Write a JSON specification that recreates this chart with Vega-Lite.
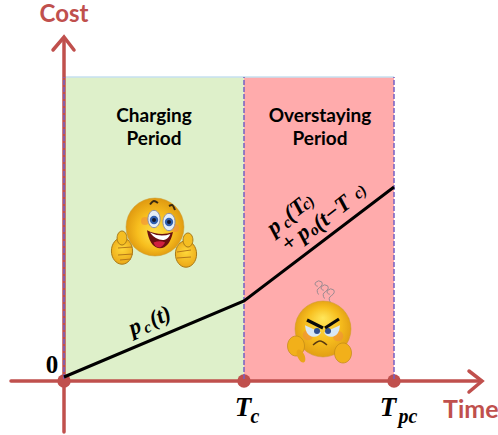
{
"$schema":"https://vega.github.io/schema/vega-lite/v6.json",
"width":498,"height":435,"padding":0,"autosize":{"type":"none"},
"background":"white","view":{"stroke":null},
"data":{"values":[{"time":0,"cost":0}]},
"encoding":{
"x":{"field":"time","type":"quantitative","scale":{"domain":[-64,434],"nice":false,"zero":false},"axis":null},
"y":{"field":"cost","type":"quantitative","scale":{"domain":[-54,381],"nice":false,"zero":false},"axis":null}},
"layer":[
{"data":{"values":[{"time":0,"time_end":180,"cost":0,"cost_end":304}]},"mark":{"type":"rect","color":"#DEF0CA"},"encoding":{"x2":{"field":"time_end"},"y2":{"field":"cost_end"}}},
{"data":{"values":[{"time":180,"time_end":330,"cost":0,"cost_end":304}]},"mark":{"type":"rect","color":"#FFABAC"},"encoding":{"x2":{"field":"time_end"},"y2":{"field":"cost_end"}}},
{"data":{"values":[{"time":0,"cost":304},{"time":330,"cost":304}]},"mark":{"type":"line","color":"#C6E0F0","strokeWidth":1.5}},
{"data":{"values":[
{"time":-53,"cost":0,"part":"h"},{"time":417,"cost":0,"part":"h"},
{"time":0,"cost":-51,"part":"v"},{"time":0,"cost":342,"part":"v"},
{"time":405,"cost":10,"part":"ah"},{"time":418,"cost":0,"part":"ah"},{"time":405,"cost":-11,"part":"ah"},
{"time":-11,"cost":331,"part":"av"},{"time":0,"cost":344,"part":"av"},{"time":10,"cost":331,"part":"av"}]},
"mark":{"type":"line","color":"#C0504D","strokeWidth":3.5,"strokeCap":"round","strokeJoin":"miter"},"encoding":{"detail":{"field":"part"},"order":{"field":"time_order"}}},
{"data":{"values":[{"time":0,"cost":0},{"time":180,"cost":0},{"time":330,"cost":0}]},"mark":{"type":"point","filled":true,"color":"#C0504D","opacity":1,"size":180}},
{"data":{"values":[{"time":0,"cost":2,"part":"a"},{"time":0,"cost":304,"part":"a"},{"time":180,"cost":2,"part":"b"},{"time":180,"cost":304,"part":"b"},{"time":330,"cost":2,"part":"c"},{"time":330,"cost":304,"part":"c"}]},
"mark":{"type":"line","color":"#7560C4","strokeWidth":1.5,"strokeDash":[5,2]},"encoding":{"detail":{"field":"part"}}},
{"data":{"values":[{"time":0,"cost":4},{"time":180,"cost":80},{"time":330,"cost":194}]},"mark":{"type":"line","color":"black","strokeWidth":3}},

{"data":{"values":[{"time":58,"cost":130},{"time":122,"cost":127}]},"mark":{"type":"point","filled":true,"opacity":1,"size":700,"shape":"M-0.8,0A0.8,1,0,1,1,0.8,0A0.8,1,0,1,1,-0.8,0Z","stroke":"#A87A18","strokeWidth":1,"fill":{"gradient":"radial","x1":0.5,"y1":0.4,"r1":0,"x2":0.5,"y2":0.5,"r2":0.6,"stops":[{"offset":0,"color":"#FFD83A"},{"offset":1,"color":"#E8A012"}]}}},
{"data":{"values":[{"time":58,"cost":143},{"time":124,"cost":141}]},"mark":{"type":"point","filled":true,"opacity":1,"size":196,"shape":"M-0.7,0A0.7,1,0,1,1,0.7,0A0.7,1,0,1,1,-0.7,0Z","stroke":"#A87A18","strokeWidth":1,"fill":"#F5BE22"}},
{"data":{"values":[{"time":54,"cost":133,"part":"a"},{"time":68,"cost":134,"part":"a"},{"time":54,"cost":126,"part":"b"},{"time":69,"cost":127,"part":"b"},{"time":56,"cost":121,"part":"c"},{"time":67,"cost":122,"part":"c"},{"time":113,"cost":129,"part":"d"},{"time":127,"cost":131,"part":"d"},{"time":113,"cost":123,"part":"e"},{"time":127,"cost":124,"part":"e"}]},"mark":{"type":"line","color":"#B5791A","strokeWidth":1},"encoding":{"detail":{"field":"part"}}},
{"data":{"values":[{"time":91,"cost":154}]},"mark":{"type":"point","filled":true,"opacity":1,"size":3364,"stroke":"#C99A30","strokeWidth":0.5,"fill":{"gradient":"radial","x1":0.5,"y1":0.65,"r1":0,"x2":0.5,"y2":0.5,"r2":0.55,"stops":[{"offset":0,"color":"#FFE24A"},{"offset":0.55,"color":"#F7BE1E"},{"offset":1,"color":"#DB920E"}]}}},
{"data":{"values":[{"time":81,"cost":160},{"time":111,"cost":153}]},"mark":{"type":"point","filled":true,"color":"#F08A40","opacity":0.55,"size":64}},
{"data":{"values":[{"time":90,"cost":162},{"time":105,"cost":159}]},"mark":{"type":"point","filled":true,"opacity":1,"size":300,"shape":"M-0.7,0A0.7,1,0,1,1,0.7,0A0.7,1,0,1,1,-0.7,0Z","fill":"#E4EEF8","stroke":"#8A8FA8","strokeWidth":1}},
{"data":{"values":[{"time":90,"cost":161},{"time":105,"cost":159}]},"mark":{"type":"point","filled":true,"color":"#2F5FB0","opacity":1,"size":70}},
{"data":{"values":[{"time":90,"cost":161},{"time":105,"cost":159}]},"mark":{"type":"point","filled":true,"color":"#101830","opacity":1,"size":16}},
{"data":{"values":[{"time":86,"cost":176.5,"part":"a"},{"time":90,"cost":180,"part":"a"},{"time":94,"cost":178,"part":"a"},{"time":105,"cost":175,"part":"b"},{"time":108,"cost":176,"part":"b"},{"time":111,"cost":171,"part":"b"}]},"mark":{"type":"line","color":"#3A2A10","strokeWidth":2,"interpolate":"monotone"},"encoding":{"detail":{"field":"part"}}},
{"data":{"values":[{"time":96,"cost":143}]},"mark":{"type":"point","filled":true,"color":"#6B1010","opacity":1,"size":676,"shape":"M-1,-0.6Q0,-0.1,1,-0.46Q0.7,0.9,-0.15,0.77Q-0.8,0.6,-1,-0.6Z"}},
{"data":{"values":[{"time":96,"cost":143}]},"mark":{"type":"point","filled":true,"color":"#FFFFFF","opacity":1,"size":676,"shape":"M-0.78,-0.42Q0,-0.02,0.8,-0.3Q0.65,0.1,0.3,0.15Q-0.3,0.2,-0.78,-0.42Z"}},
{"data":{"values":[{"time":96,"cost":143}]},"mark":{"type":"point","filled":true,"color":"#D02040","opacity":1,"size":676,"shape":"M-0.5,0.35Q0,0.15,0.4,0.35Q0.1,0.8,-0.15,0.72Q-0.4,0.65,-0.5,0.35Z"}},

{"data":{"values":[{"time":256,"cost":94},{"time":262,"cost":90},{"time":268,"cost":86}]},"mark":{"type":"point","filled":false,"opacity":1,"color":"#9A8A90","strokeWidth":1,"size":225,"shape":"M-0.2,1Q-0.6,0.4,-0.1,0.1Q0.5,-0.3,0.2,-0.7Q-0.2,-1,-0.6,-0.6Q-0.8,-0.2,-0.3,-0.1"}},
{"data":{"values":[{"time":259,"cost":52}]},"mark":{"type":"point","filled":true,"opacity":1,"size":3136,"stroke":"#C99A30","strokeWidth":0.5,"fill":{"gradient":"radial","x1":0.5,"y1":0.3,"r1":0,"x2":0.5,"y2":0.5,"r2":0.55,"stops":[{"offset":0,"color":"#FFE65A"},{"offset":0.55,"color":"#F7BE1E"},{"offset":1,"color":"#DF9A12"}]}}},
{"data":{"values":[{"time":244,"cost":46},{"time":274,"cost":45}]},"mark":{"type":"point","filled":true,"color":"#F08A40","opacity":0.55,"size":110}},
{"data":{"values":[{"time":249,"cost":51}]},"mark":{"type":"point","filled":true,"color":"#D8E8F6","opacity":1,"size":256,"shape":"M-1,-0.6L1,0.3Q0.6,1,-0.2,0.8Q-0.9,0.6,-1,-0.6Z"}},
{"data":{"values":[{"time":268,"cost":51}]},"mark":{"type":"point","filled":true,"color":"#D8E8F6","opacity":1,"size":256,"shape":"M1,-0.6L-1,0.3Q-0.6,1,0.2,0.8Q0.9,0.6,1,-0.6Z"}},
{"data":{"values":[{"time":253,"cost":50},{"time":264,"cost":50}]},"mark":{"type":"point","filled":true,"color":"#2F4F90","opacity":1,"size":36}},
{"data":{"values":[{"time":243,"cost":61,"part":"a"},{"time":259,"cost":53,"part":"a"},{"time":275,"cost":62,"part":"b"},{"time":261,"cost":53,"part":"b"}]},"mark":{"type":"line","color":"#0A0A0A","strokeWidth":3.2},"encoding":{"detail":{"field":"part"}}},
{"data":{"values":[{"time":249,"cost":36},{"time":256,"cost":40},{"time":263,"cost":36}]},"mark":{"type":"line","color":"#5A3A10","strokeWidth":1.5,"interpolate":"monotone"}},
{"data":{"values":[{"time":232,"cost":35},{"time":279,"cost":28}]},"mark":{"type":"point","filled":true,"opacity":1,"size":400,"shape":"M-0.85,0A0.85,1,0,1,1,0.85,0A0.85,1,0,1,1,-0.85,0Z","fill":"#F2B01A","stroke":"#C08A18","strokeWidth":0.7}},
{"data":{"values":[{"time":237,"cost":25}]},"mark":{"type":"point","filled":true,"color":"#E9A518","opacity":1,"size":196,"angle":-25,"shape":"M-0.5,0A0.5,1,0,1,1,0.5,0A0.5,1,0,1,1,-0.5,0Z"}},

{"data":{"values":[{"time":0,"cost":366,"label":"Cost"}]},"mark":{"type":"text","font":"Lato","fontWeight":"bold","fontSize":24,"color":"#C0504D"},"encoding":{"text":{"field":"label"}}},
{"data":{"values":[{"time":379,"cost":-29,"label":"Time"}]},"mark":{"type":"text","font":"Lato","fontWeight":"bold","fontSize":25,"align":"left","color":"#C0504D"},"encoding":{"text":{"field":"label"}}},
{"data":{"values":[{"time":90,"cost":265,"label":"Charging"},{"time":90,"cost":242,"label":"Period"},{"time":256,"cost":265,"label":"Overstaying"},{"time":256,"cost":242,"label":"Period"}]},"mark":{"type":"text","font":"Lato","fontWeight":"bold","fontSize":19,"color":"black"},"encoding":{"text":{"field":"label"}}},
{"data":{"values":[{"time":-12,"cost":16,"label":"0"}]},"mark":{"type":"text","font":"Liberation Serif","fontWeight":"bold","fontSize":25,"color":"black"},"encoding":{"text":{"field":"label"}}},
{"data":{"values":[{"time":179,"cost":-27,"label":"T"},{"time":324,"cost":-27,"label":"T"}]},"mark":{"type":"text","font":"Liberation Serif","fontWeight":"bold","fontStyle":"italic","fontSize":27,"color":"black"},"encoding":{"text":{"field":"label"}}},
{"data":{"values":[{"time":191,"cost":-36,"label":"c"},{"time":344,"cost":-36,"label":"pc"}]},"mark":{"type":"text","font":"Liberation Serif","fontWeight":"bold","fontStyle":"italic","fontSize":20,"color":"black"},"encoding":{"text":{"field":"label"}}},
{"data":{"values":[{"time":71,"cost":54,"label":"p"},{"time":96,"cost":64.5,"label":"(t)"}]},"mark":{"type":"text","font":"Liberation Serif","fontWeight":"bold","fontStyle":"italic","fontSize":23,"angle":336,"color":"black"},"encoding":{"text":{"field":"label"}}},
{"data":{"values":[{"time":83.5,"cost":53.5,"label":"c"}]},"mark":{"type":"text","font":"Liberation Serif","fontWeight":"bold","fontStyle":"italic","fontSize":16,"angle":336,"color":"black"},"encoding":{"text":{"field":"label"}}},
{"data":{"values":[{"time":210,"cost":154,"label":"p"},{"time":231,"cost":171,"label":"(T"},{"time":225,"cost":138,"label":"+"},{"time":239,"cost":148,"label":"p"},{"time":268,"cost":168,"label":"(t−T"}]},"mark":{"type":"text","font":"Liberation Serif","fontWeight":"bold","fontStyle":"italic","fontSize":23,"angle":322,"color":"black"},"encoding":{"text":{"field":"label"}}},
{"data":{"values":[{"time":223,"cost":158,"label":"c"},{"time":244,"cost":178,"label":"c)"},{"time":250,"cost":151,"label":"o"},{"time":296,"cost":189,"label":"c)"}]},"mark":{"type":"text","font":"Liberation Serif","fontWeight":"bold","fontStyle":"italic","fontSize":16,"angle":322,"color":"black"},"encoding":{"text":{"field":"label"}}}
]}
